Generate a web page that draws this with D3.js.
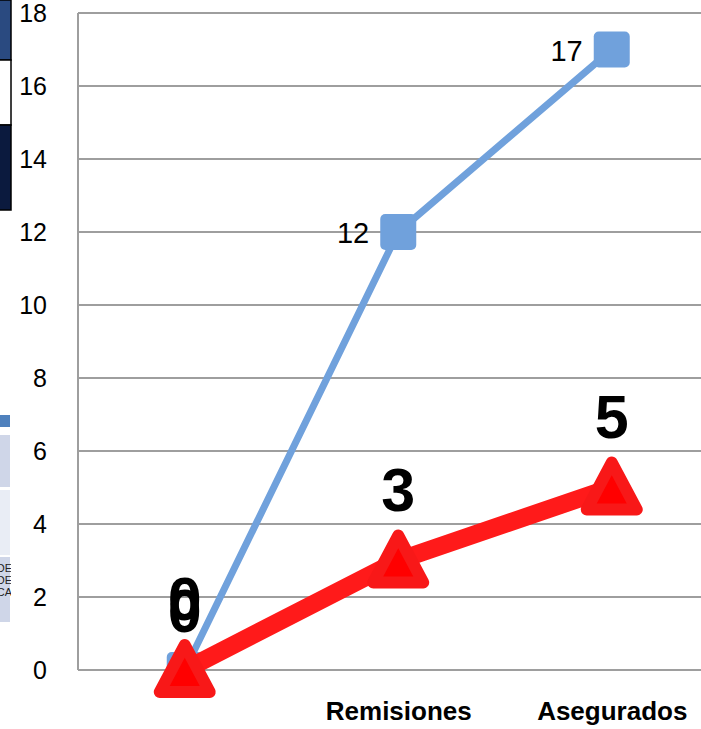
<!DOCTYPE html>
<html>
<head>
<meta charset="utf-8">
<script src="https://cdn.jsdelivr.net/npm/d3@7"></script>
<style>
  body { margin: 0; background: #fff; }
  svg { display: block; }
</style>
</head>
<body>
<div id="chart"></div>
<script>
let categories = ["", "Remisiones", "Asegurados"];
let blueValues = [0, 12, 17];
let redValues = [0, 3, 5];
let yTicks = [0, 2, 4, 6, 8, 10, 12, 14, 16, 18];

let w = 701;
let h = 729;

let svg = d3.select("#chart")
    .append("svg")
    .attr("width", w)
    .attr("height", h);

// bits of other slide objects cut off on the left edge
let leftPieces = [
    { y: 0, hh: 60, fill: "#2a4a80" },
    { y: 60, hh: 65, fill: "#ffffff" },
    { y: 125, hh: 85, fill: "#0b1a3e" }
];
svg.selectAll(".piece").data(leftPieces).enter()
    .append("rect")
    .attr("x", -2)
    .attr("y", d => d.y)
    .attr("width", 13)
    .attr("height", d => d.hh)
    .attr("fill", d => d.fill)
    .attr("stroke", "#000")
    .attr("stroke-width", 1.5);

let tablePieces = [
    { y: 415, hh: 12, fill: "#4f81bd" },
    { y: 435, hh: 52, fill: "#cfd6e8" },
    { y: 490, hh: 65, fill: "#e9edf5" },
    { y: 557, hh: 65, fill: "#cfd6e8" }
];
svg.selectAll(".tpiece").data(tablePieces).enter()
    .append("rect")
    .attr("x", 0)
    .attr("y", d => d.y)
    .attr("width", 10)
    .attr("height", d => d.hh)
    .attr("fill", d => d.fill);

svg.append("clipPath").attr("id", "tclip")
    .append("rect").attr("x", 0).attr("y", 557).attr("width", 11).attr("height", 65);
svg.append("g").attr("clip-path", "url(#tclip)")
    .selectAll("text").data(["DE", "DE", "CA"]).enter()
    .append("text")
    .attr("x", 12)
    .attr("y", (d, i) => 572 + i * 12)
    .attr("text-anchor", "end")
    .attr("font-family", "Liberation Sans, Arial, sans-serif")
    .attr("font-size", 11)
    .attr("fill", "#222")
    .text(d => d);

let plotLeft = 78;
let plotTop = 13;
let plotBottom = 670;

let x = d3.scalePoint()
    .domain(categories)
    .range([plotLeft, plotLeft + 640.5])
    .padding(0.5);

let y = d3.scaleLinear()
    .domain([0, 18])
    .range([plotBottom, plotTop]);

// gridlines
svg.selectAll(".grid").data(yTicks).enter()
    .append("line")
    .attr("x1", plotLeft)
    .attr("x2", w)
    .attr("y1", d => y(d))
    .attr("y2", d => y(d))
    .attr("stroke", "#9e9e9e")
    .attr("stroke-width", 2);

svg.append("line")
    .attr("x1", plotLeft).attr("x2", plotLeft)
    .attr("y1", plotTop).attr("y2", plotBottom)
    .attr("stroke", "#9e9e9e")
    .attr("stroke-width", 2);

let yAxis = svg.append("g")
    .attr("transform", "translate(" + (plotLeft - 31) + ",0)")
    .call(d3.axisLeft(y).tickValues(yTicks).tickSize(0).tickPadding(0));
yAxis.select(".domain").remove();
yAxis.selectAll("text")
    .attr("font-family", "Liberation Sans, Arial, sans-serif")
    .attr("font-size", 25)
    .attr("fill", "#000");

let xAxis = svg.append("g")
    .attr("transform", "translate(0," + (plotBottom + 32) + ")")
    .call(d3.axisBottom(x).tickSize(0).tickPadding(0));
xAxis.select(".domain").remove();
xAxis.selectAll("text")
    .attr("font-family", "Liberation Sans, Arial, sans-serif")
    .attr("font-weight", "bold")
    .attr("font-size", 26)
    .attr("fill", "#000");

let line = d3.line()
    .x((d, i) => x(categories[i]))
    .y(d => y(d));

let bluePts = blueValues.map((v, i) => ({ cat: categories[i], v: v }));
let redPts = redValues.map((v, i) => ({ cat: categories[i], v: v }));

// blue series
svg.append("path")
    .datum(blueValues)
    .attr("d", line)
    .attr("fill", "none")
    .attr("stroke", "#70a1dc")
    .attr("stroke-width", 7);

svg.selectAll(".bmark").data(bluePts).enter()
    .append("rect")
    .attr("x", d => x(d.cat) - 18)
    .attr("y", d => y(d.v) - 18)
    .attr("width", 36)
    .attr("height", 36)
    .attr("rx", 5)
    .attr("fill", "#70a1dc");

svg.selectAll(".blab").data(bluePts.filter(d => d.v > 0)).enter()
    .append("text")
    .attr("x", d => x(d.cat) - 29)
    .attr("y", d => y(d.v) + 11)
    .attr("text-anchor", "end")
    .attr("font-family", "Liberation Sans, Arial, sans-serif")
    .attr("font-size", 29)
    .attr("fill", "#000")
    .text(d => d.v);

// red series
svg.append("path")
    .datum(redValues)
    .attr("d", line)
    .attr("fill", "none")
    .attr("stroke", "#ff1a1a")
    .attr("stroke-width", 18);

svg.selectAll(".rmark").data(redPts).enter()
    .append("path")
    .attr("transform", d => "translate(" + x(d.cat) + "," + y(d.v) + ")")
    .attr("d", "M0,-25L25,22L-25,22Z")
    .attr("fill", "#ff0000")
    .attr("stroke", "#f81818")
    .attr("stroke-width", 12)
    .attr("stroke-linejoin", "round");

// blue "0" sits just under the red one
svg.append("text")
    .attr("x", x(bluePts[0].cat))
    .attr("y", y(bluePts[0].v) - 38)
    .attr("text-anchor", "middle")
    .attr("font-family", "Liberation Sans, Arial, sans-serif")
    .attr("font-weight", "bold")
    .attr("font-size", 61)
    .attr("fill", "#000")
    .text(bluePts[0].v);

svg.selectAll(".rlab").data(redPts).enter()
    .append("text")
    .attr("x", d => x(d.cat))
    .attr("y", d => y(d.v) - 50)
    .attr("text-anchor", "middle")
    .attr("font-family", "Liberation Sans, Arial, sans-serif")
    .attr("font-weight", "bold")
    .attr("font-size", 61)
    .attr("fill", "#000")
    .text(d => d.v);
</script>
</body>
</html>
